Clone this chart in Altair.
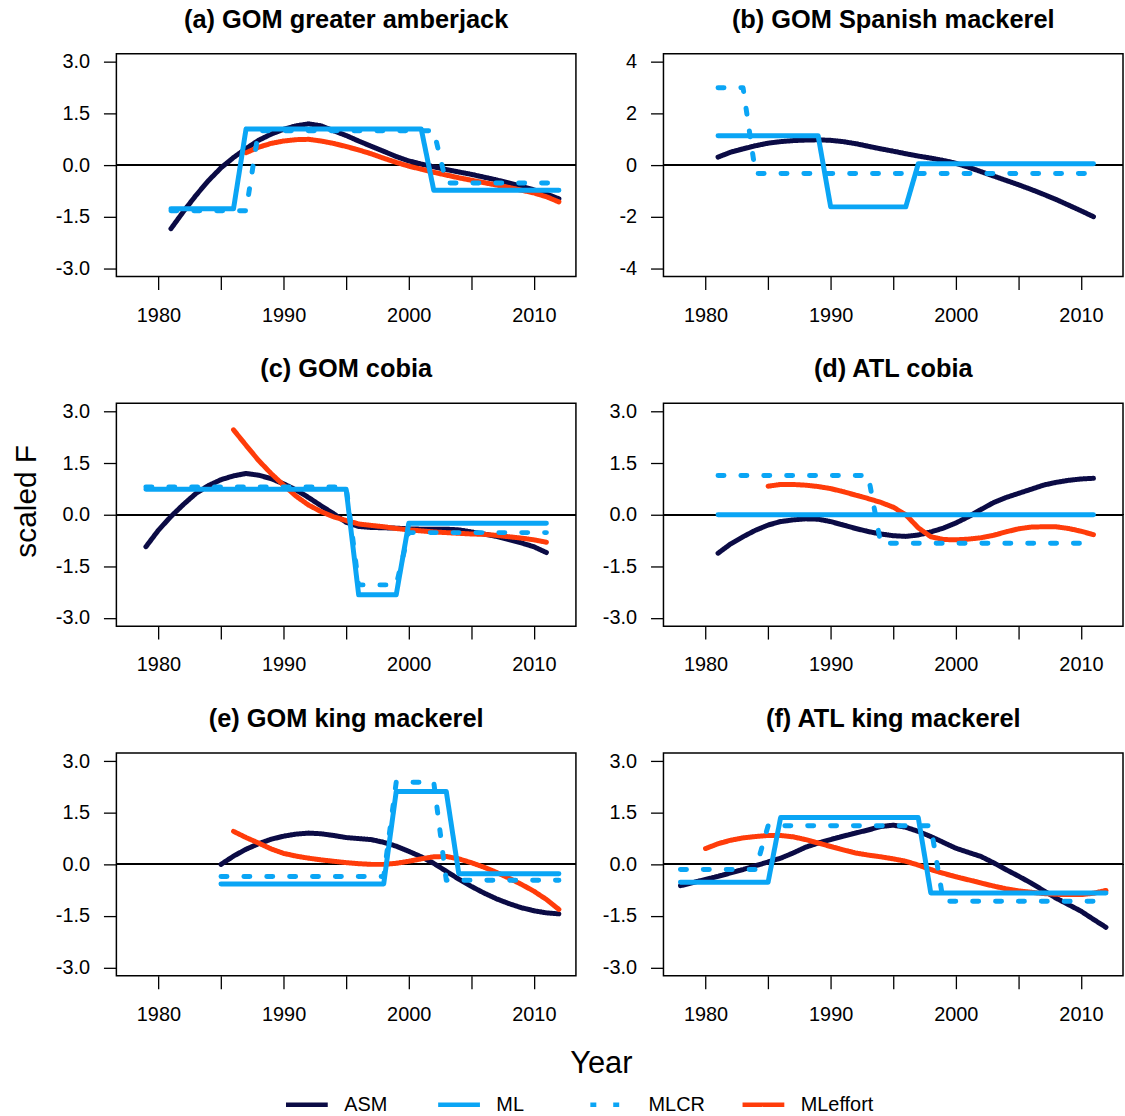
import altair as alt
import pandas as pd

SERIES = ["ASM", "ML", "MLCR", "MLeffort"]
COLORS = ["#0b0b45", "#0aa5f5", "#0aa5f5", "#ff3c0a"]
DASHES = [[1, 0], [1, 0], [6, 17], [1, 0]]
DRAW_ORDER = ["ASM", "MLeffort", "ML", "MLCR"]

X_TICKS = [1980, 1985, 1990, 1995, 2000, 2005, 2010]
Y_TICKS_STD = [-3.0, -1.5, 0.0, 1.5, 3.0]
Y_TICKS_B = [-4, -2, 0, 2, 4]

# ---------------- (a) GOM greater amberjack ----------------
A_TITLE = "(a) GOM greater amberjack"
A_ASM_START = 1981
A_ASM = [-1.85, -1.35, -0.88, -0.45, -0.08, 0.22, 0.48, 0.72, 0.9, 1.04,
         1.14, 1.2, 1.14, 1.0, 0.86, 0.7, 0.55, 0.4, 0.25, 0.12,
         0.03, -0.05, -0.13, -0.2, -0.27, -0.35, -0.43, -0.52, -0.62, -0.72,
         -0.84, -0.98]
A_ML_START = 1981
A_ML = [-1.27, -1.27, -1.27, -1.27, -1.27, -1.27,
        1.05, 1.05, 1.05, 1.05, 1.05, 1.05, 1.05, 1.05, 1.05, 1.05, 1.05, 1.05, 1.05, 1.05, 1.05,
        -0.73, -0.73, -0.73, -0.73, -0.73, -0.73, -0.73, -0.73, -0.73, -0.73, -0.73]
A_MLCR_START = 1981
A_MLCR = [-1.33, -1.33, -1.33, -1.33, -1.33, -1.33, -1.33,
          1.0, 1.0, 1.0, 1.0, 1.0, 1.0, 1.0, 1.0, 1.0, 1.0, 1.0, 1.0, 1.0, 1.0, 1.0,
          -0.52, -0.52, -0.52, -0.52, -0.52, -0.52, -0.52, -0.52, -0.52, -0.52]
A_MLE_START = 1987
A_MLE = [0.36, 0.52, 0.63, 0.7, 0.74, 0.75, 0.7, 0.63, 0.54, 0.44,
         0.33, 0.2, 0.08, -0.03, -0.12, -0.21, -0.29, -0.37, -0.44, -0.51,
         -0.58, -0.65, -0.73, -0.81, -0.92, -1.07]

# ---------------- (b) GOM Spanish mackerel ----------------
B_TITLE = "(b) GOM Spanish mackerel"
B_ASM_START = 1981
B_ASM = [0.31, 0.5, 0.63, 0.75, 0.85, 0.91, 0.95, 0.97, 0.98, 0.96,
         0.91, 0.83, 0.73, 0.63, 0.54, 0.44, 0.35, 0.27, 0.18, 0.07,
         -0.08, -0.25, -0.42, -0.59, -0.76, -0.94, -1.13, -1.33, -1.55, -1.77,
         -2.0]
B_ML_START = 1981
B_ML = [1.14, 1.14, 1.14, 1.14, 1.14, 1.14, 1.14, 1.14, 1.14,
        -1.62, -1.62, -1.62, -1.62, -1.62, -1.62, -1.62,
        0.05, 0.05, 0.05, 0.05, 0.05, 0.05, 0.05, 0.05, 0.05, 0.05, 0.05, 0.05, 0.05, 0.05, 0.05]
B_MLCR_START = 1981
B_MLCR = [3.0, 3.0, 3.0,
          -0.33, -0.33, -0.33, -0.33, -0.33, -0.33, -0.33, -0.33, -0.33, -0.33,
          -0.33, -0.33, -0.33, -0.33, -0.33, -0.33, -0.33, -0.33, -0.33, -0.33,
          -0.33, -0.33, -0.33, -0.33, -0.33, -0.33, -0.33, -0.33]
B_MLE_START = 1981
B_MLE = []

# ---------------- (c) GOM cobia ----------------
C_TITLE = "(c) GOM cobia"
C_ASM_START = 1979
C_ASM = [-0.93, -0.45, -0.05, 0.3, 0.62, 0.85, 1.02, 1.13, 1.2, 1.15,
         1.05, 0.9, 0.72, 0.5, 0.26, 0.03, -0.22, -0.34, -0.37, -0.38,
         -0.39, -0.41, -0.42, -0.42, -0.42, -0.44, -0.5, -0.56, -0.63, -0.72,
         -0.82, -0.93, -1.1]
C_ML_START = 1979
C_ML = [0.74, 0.74, 0.74, 0.74, 0.74, 0.74, 0.74, 0.74, 0.74, 0.74,
        0.74, 0.74, 0.74, 0.74, 0.74, 0.74, 0.74,
        -2.33, -2.33, -2.33, -2.33,
        -0.25, -0.25, -0.25, -0.25, -0.25, -0.25, -0.25, -0.25, -0.25, -0.25, -0.25, -0.25]
C_MLCR_START = 1979
C_MLCR = [0.81, 0.81, 0.81, 0.81, 0.81, 0.81, 0.81, 0.81, 0.81, 0.81,
          0.81, 0.81, 0.81, 0.81, 0.81, 0.81, 0.81,
          -2.04, -2.04, -2.04, -2.04,
          -0.52, -0.52, -0.52, -0.52, -0.52, -0.52, -0.52, -0.52, -0.52, -0.52, -0.52, -0.52]
C_MLE_START = 1986
C_MLE = [2.47, 2.02, 1.58, 1.2, 0.86, 0.54, 0.28, 0.09, -0.06, -0.17,
         -0.27, -0.31, -0.35, -0.4, -0.44, -0.47, -0.5, -0.52, -0.54, -0.56,
         -0.57, -0.6, -0.64, -0.68, -0.73, -0.8]

# ---------------- (d) ATL cobia ----------------
D_TITLE = "(d) ATL cobia"
D_ASM_START = 1981
D_ASM = [-1.12, -0.85, -0.64, -0.45, -0.3, -0.2, -0.15, -0.12, -0.13, -0.2,
         -0.3, -0.4, -0.49, -0.56, -0.61, -0.63, -0.59, -0.5, -0.39, -0.24,
         -0.06, 0.15, 0.35, 0.5, 0.62, 0.74, 0.86, 0.94, 1.0, 1.04,
         1.06]
D_ML_START = 1981
D_ML = [0.0, 0.0, 0.0, 0.0, 0.0, 0.0, 0.0, 0.0, 0.0, 0.0,
        0.0, 0.0, 0.0, 0.0, 0.0, 0.0, 0.0, 0.0, 0.0, 0.0,
        0.0, 0.0, 0.0, 0.0, 0.0, 0.0, 0.0, 0.0, 0.0, 0.0, 0.0]
D_MLCR_START = 1981
D_MLCR = [1.14, 1.14, 1.14, 1.14, 1.14, 1.14, 1.14, 1.14, 1.14, 1.14, 1.14, 1.14, 1.14,
          -0.83, -0.83, -0.83, -0.83, -0.83, -0.83, -0.83, -0.83, -0.83,
          -0.83, -0.83, -0.83, -0.83, -0.83, -0.83, -0.83, -0.83, -0.83]
D_MLE_START = 1985
D_MLE = [0.83, 0.88, 0.88, 0.86, 0.82, 0.76, 0.67, 0.57, 0.47, 0.36,
         0.22, 0.0, -0.38, -0.64, -0.72, -0.73, -0.71, -0.67, -0.6, -0.5,
         -0.41, -0.36, -0.35, -0.35, -0.4, -0.48, -0.58]

# ---------------- (e) GOM king mackerel ----------------
E_TITLE = "(e) GOM king mackerel"
E_ASM_START = 1985
E_ASM = [0.0, 0.24, 0.44, 0.6, 0.73, 0.82, 0.88, 0.91, 0.89, 0.84,
         0.78, 0.75, 0.72, 0.64, 0.53, 0.38, 0.22, 0.03, -0.2, -0.43,
         -0.64, -0.83, -1.0, -1.14, -1.26, -1.35, -1.41, -1.44]
E_ML_START = 1985
E_ML = [-0.57, -0.57, -0.57, -0.57, -0.57, -0.57, -0.57, -0.57, -0.57, -0.57, -0.57, -0.57, -0.57, -0.57,
        2.12, 2.12, 2.12, 2.12, 2.12,
        -0.27, -0.27, -0.27, -0.27, -0.27, -0.27, -0.27, -0.27, -0.27]
E_MLCR_START = 1985
E_MLCR = [-0.35, -0.35, -0.35, -0.35, -0.35, -0.35, -0.35, -0.35, -0.35, -0.35, -0.35, -0.35, -0.35, -0.35,
          2.39, 2.39, 2.39, 2.39,
          -0.46, -0.46, -0.46, -0.46, -0.46, -0.46, -0.46, -0.46, -0.46, -0.46]
E_MLE_START = 1986
E_MLE = [0.96, 0.78, 0.62, 0.45, 0.32, 0.24, 0.18, 0.13, 0.09, 0.05,
         0.02, 0.0, 0.0, 0.03, 0.09, 0.16, 0.22, 0.23, 0.16, 0.05,
         -0.08, -0.23, -0.4, -0.58, -0.78, -1.02, -1.31]

# ---------------- (f) ATL king mackerel ----------------
F_TITLE = "(f) ATL king mackerel"
F_ASM_START = 1978
F_ASM = [-0.62, -0.53, -0.44, -0.35, -0.25, -0.15, -0.04, 0.07, 0.18, 0.33,
         0.5, 0.62, 0.72, 0.82, 0.91, 1.0, 1.1, 1.14, 1.08, 0.96,
         0.81, 0.64, 0.47, 0.35, 0.23, 0.05, -0.15, -0.34, -0.54, -0.76,
         -0.98, -1.17, -1.36, -1.6, -1.83]
F_ML_START = 1978
F_ML = [-0.52, -0.52, -0.52, -0.52, -0.52, -0.52, -0.52, -0.52,
        1.36, 1.36, 1.36, 1.36, 1.36, 1.36, 1.36, 1.36, 1.36, 1.36, 1.36, 1.36,
        -0.83, -0.83, -0.83, -0.83, -0.83, -0.83, -0.83, -0.83, -0.83, -0.83,
        -0.83, -0.83, -0.83, -0.83, -0.83]
F_MLCR_START = 1978
F_MLCR = [-0.15, -0.15, -0.15, -0.15, -0.15, -0.15, -0.15,
          1.12, 1.12, 1.12, 1.12, 1.12, 1.12, 1.12, 1.12, 1.12, 1.12, 1.12, 1.12, 1.12, 1.12,
          -1.07, -1.07, -1.07, -1.07, -1.07, -1.07, -1.07, -1.07, -1.07, -1.07,
          -1.07, -1.07, -1.07, -1.07]
F_MLE_START = 1980
F_MLE = [0.46, 0.6, 0.7, 0.77, 0.81, 0.84, 0.84, 0.8, 0.72, 0.62,
         0.52, 0.42, 0.33, 0.27, 0.22, 0.16, 0.09, -0.02, -0.15, -0.26,
         -0.36, -0.45, -0.54, -0.63, -0.71, -0.77, -0.81, -0.85, -0.87, -0.88,
         -0.88, -0.84, -0.76]

PANELS = [
    (A_TITLE, {"ASM": (A_ASM_START, A_ASM), "ML": (A_ML_START, A_ML),
               "MLCR": (A_MLCR_START, A_MLCR), "MLeffort": (A_MLE_START, A_MLE)}, "std"),
    (B_TITLE, {"ASM": (B_ASM_START, B_ASM), "ML": (B_ML_START, B_ML),
               "MLCR": (B_MLCR_START, B_MLCR), "MLeffort": (B_MLE_START, B_MLE)}, "b"),
    (C_TITLE, {"ASM": (C_ASM_START, C_ASM), "ML": (C_ML_START, C_ML),
               "MLCR": (C_MLCR_START, C_MLCR), "MLeffort": (C_MLE_START, C_MLE)}, "std"),
    (D_TITLE, {"ASM": (D_ASM_START, D_ASM), "ML": (D_ML_START, D_ML),
               "MLCR": (D_MLCR_START, D_MLCR), "MLeffort": (D_MLE_START, D_MLE)}, "std"),
    (E_TITLE, {"ASM": (E_ASM_START, E_ASM), "ML": (E_ML_START, E_ML),
               "MLCR": (E_MLCR_START, E_MLCR), "MLeffort": (E_MLE_START, E_MLE)}, "std"),
    (F_TITLE, {"ASM": (F_ASM_START, F_ASM), "ML": (F_ML_START, F_ML),
               "MLCR": (F_MLCR_START, F_MLCR), "MLeffort": (F_MLE_START, F_MLE)}, "std"),
]

FONT = "Liberation Sans"
PW, PH = 462, 224

legend = alt.Legend(
    title=None, orient="none", legendX=168, legendY=1033, direction="horizontal",
    columns=4, symbolType="stroke", symbolStrokeWidth=4.5, symbolSize=1764,
    labelFontSize=20, labelFont=FONT, labelColor="black", columnPadding=12,
    gridAlign="all", labelOffset=14, padding=0,
)


def make_panel(idx, title, series, ykind):
    rows = []
    for name in DRAW_ORDER:
        start, vals = series[name]
        for i, v in enumerate(vals):
            rows.append({"year": start + i, "value": v, "series": name,
                         "ord": DRAW_ORDER.index(name)})
    df = pd.DataFrame(rows)

    if ykind == "b":
        ydom = [-4.32, 4.32]
        yvals = Y_TICKS_B
        ylab = "(datum.value < 0 ? '-' : '') + format(abs(datum.value), 'd')"
    else:
        ydom = [-3.24, 3.24]
        yvals = Y_TICKS_STD
        ylab = "(datum.value < 0 ? '-' : '') + format(abs(datum.value), '.1f')"

    xaxis_kw = dict(values=X_TICKS, format="d",
                    labelExpr="datum.value % 10 == 0 ? datum.label : ''",
                    labelPadding=16, labelFlush=False, labelOverlap=False, title=None)
    yaxis_kw = dict(values=yvals, labelExpr=ylab, labelPadding=14,
                    labelFlush=False, labelOverlap=False, title=None)
    if idx == 2:
        yaxis_kw.update(title="scaled F", titleFontSize=30, titleFontWeight="normal",
                        titleFont=FONT, titleColor="black", titleX=-81, titleY=98,
                        titleAngle=270, titleBaseline="alphabetic", titleAlign="center")
    if idx == 4:
        xaxis_kw.update(title="Year", titleFontSize=31, titleFontWeight="normal",
                        titleFont=FONT, titleColor="black", titleX=487, titleY=97,
                        titleBaseline="alphabetic", titleAlign="center")

    xsc = alt.Scale(domain=[1976.64, 2013.36], nice=False, zero=False)
    ysc = alt.Scale(domain=ydom, nice=False, zero=False)

    zero = alt.Chart(df).mark_rule(color="black", strokeWidth=1.3).encode(
        y=alt.datum(0, scale=ysc, axis=alt.Axis(**yaxis_kw))
    )
    lines = alt.Chart(df).mark_line(
        strokeWidth=5, strokeCap="round", strokeJoin="round"
    ).encode(
        x=alt.X("year:Q", scale=xsc, axis=alt.Axis(**xaxis_kw)),
        y=alt.Y("value:Q", scale=ysc, axis=alt.Axis(**yaxis_kw)),
        color=alt.Color("series:N", scale=alt.Scale(domain=SERIES, range=COLORS), legend=legend),
        strokeDash=alt.StrokeDash("series:N", scale=alt.Scale(domain=SERIES, range=DASHES), legend=legend),
        order=alt.Order("ord:Q"),
    )
    return alt.layer(zero, lines).properties(
        width=PW, height=PH,
        title=alt.TitleParams(title, fontSize=25.5, fontWeight="bold", font=FONT,
                              color="black", anchor="middle", offset=19),
    )


charts = [make_panel(i, t, s, k) for i, (t, s, k) in enumerate(PANELS)]

chart = alt.concat(
    *charts, columns=2, spacing={"row": 127.5, "column": 88}, bounds="flush"
).properties(
    padding={"left": 11, "top": 4, "right": 0, "bottom": 0},
    background="white",
).configure_view(
    stroke="black", strokeWidth=1.5
).configure_axis(
    grid=False, domain=False, tickColor="black", tickWidth=1.3, tickSize=13,
    labelFontSize=20, labelFont=FONT, labelColor="black",
)

chart.save("out.html", embed_options={"renderer": "svg", "actions": False})
